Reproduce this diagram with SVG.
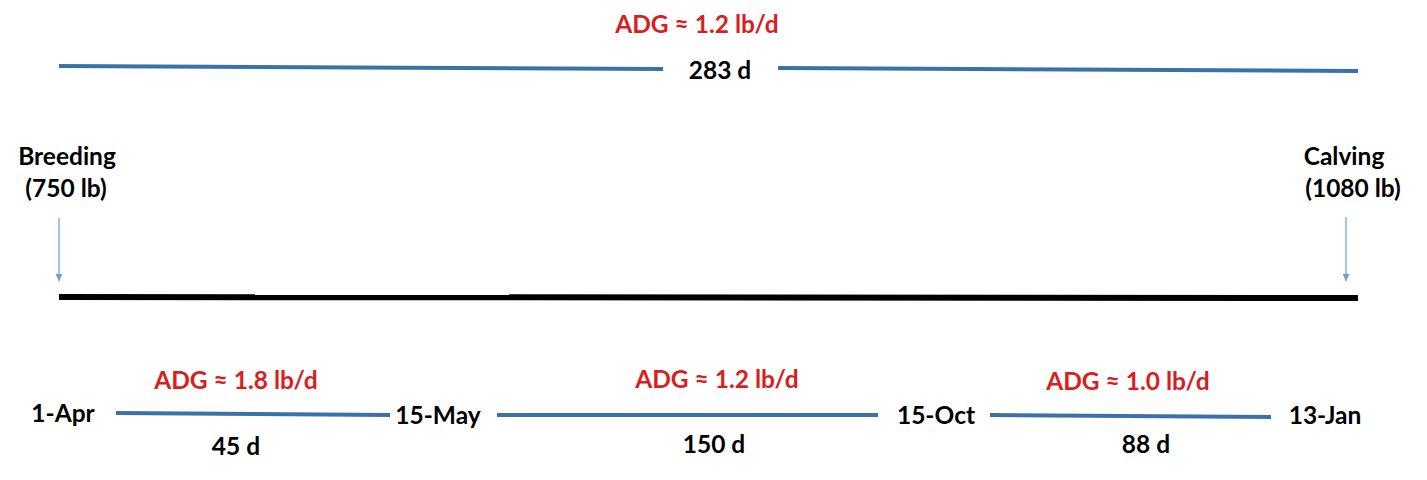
<svg xmlns="http://www.w3.org/2000/svg" width="1427" height="480" viewBox="0 0 1427 480">
<defs>
<style>
text{font-family:Lato,"Liberation Sans",sans-serif;font-weight:bold;font-size:24.5px;fill:#000;text-anchor:middle}
.adg{fill:#d81e1e}
.seg{stroke:#3a72a8;stroke-width:4;fill:none}
.axis{stroke:#000;stroke-width:6;fill:none}
.arr{stroke:#6d9dc9;stroke-width:1.2;fill:none;marker-end:url(#ah)}
</style>
<marker id="ah" viewBox="0 0 10 10" refX="10" refY="5" markerWidth="7" markerHeight="7" markerUnits="userSpaceOnUse" orient="auto">
<path d="M0,0L10,5L0,10z" fill="#6d9dc9"/>
</marker>
</defs>
<rect width="1427" height="480" fill="#fff"/>
<g id="connectors">
<path class="seg" d="M59,66 L663,69"/>
<path class="seg" d="M778,68 L1358,71"/>
<path class="axis" d="M59,297 L1358,298"/>
<path class="arr" d="M59,218 L59,281"/>
<path class="arr" d="M1346,217 L1346,281"/>
<path class="seg" d="M116,413 L390,415"/>
<path class="seg" d="M497,415 L878,415"/>
<path class="seg" d="M990,415 L1271,417"/>
</g>
<g id="total"><text class="adg" x="697" y="33">ADG ≈ 1.2 lb/d</text><text x="720" y="79">283 d</text></g>
<g id="breeding"><text x="67" y="165">Breeding</text><text x="66" y="197">(750 lb)</text></g>
<g id="calving"><text x="1344" y="165">Calving</text><text x="1353" y="197">(1080 lb)</text></g>
<g id="apr"><text x="63" y="422">1-Apr</text></g>
<g id="may"><text x="438" y="424">15-May</text></g>
<g id="oct"><text x="936" y="424">15-Oct</text></g>
<g id="jan"><text x="1325" y="424">13-Jan</text></g>
<g id="p1"><text class="adg" x="236" y="389">ADG ≈ 1.8 lb/d</text><text x="236" y="455">45 d</text></g>
<g id="p2"><text class="adg" x="717" y="388">ADG ≈ 1.2 lb/d</text><text x="714" y="453">150 d</text></g>
<g id="p3"><text class="adg" x="1128" y="390">ADG ≈ 1.0 lb/d</text><text x="1146" y="453">88 d</text></g>
</svg>
